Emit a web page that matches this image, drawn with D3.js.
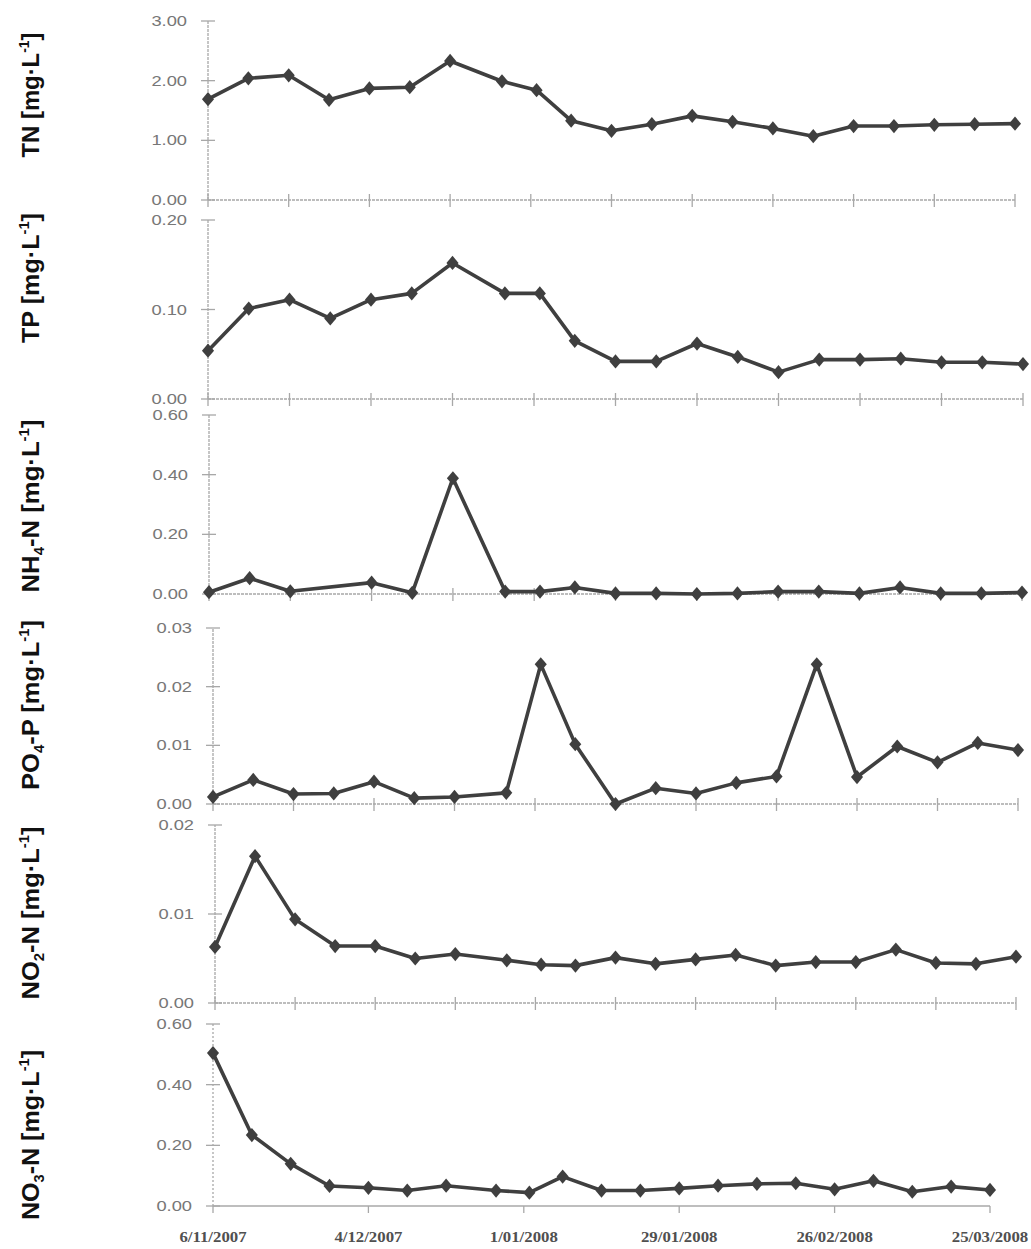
<!DOCTYPE html>
<html>
<head>
<meta charset="utf-8">
<script src="https://cdn.jsdelivr.net/npm/d3@7"></script>
<style>
  body { margin: 0; background: #fff; }
  svg { display: block; }
</style>
</head>
<body>
<svg id="chart" width="1031" height="1249"></svg>
<script>
// sampling dates (weekly, one shifted sample around new year)
const sampleDates = [
  '6/11/2007', '13/11/2007', '20/11/2007', '27/11/2007', '4/12/2007', '11/12/2007',
  '18/12/2007', '27/12/2007', '2/01/2008', '8/01/2008', '15/01/2008', '22/01/2008',
  '29/01/2008', '5/02/2008', '12/02/2008', '19/02/2008', '26/02/2008', '4/03/2008',
  '11/03/2008', '18/03/2008', '25/03/2008'
];

const tnValues  = [1.69, 2.04, 2.09, 1.68, 1.87, 1.89, 2.33, 1.99, 1.84, 1.33, 1.16,
                   1.27, 1.41, 1.31, 1.20, 1.07, 1.24, 1.24, 1.26, 1.27, 1.28];
const tpValues  = [0.054, 0.101, 0.111, 0.090, 0.111, 0.118, 0.152, 0.118, 0.118, 0.065, 0.042,
                   0.042, 0.062, 0.047, 0.030, 0.044, 0.044, 0.045, 0.041, 0.041, 0.039];
const nh4Values = [0.006, 0.053, 0.009, null, 0.038, 0.004, 0.388, 0.008, 0.008, 0.022, 0.002,
                   0.002, 0.000, 0.002, 0.008, 0.008, 0.002, 0.022, 0.002, 0.002, 0.005];
const po4Values = [0.0012, 0.0041, 0.0017, 0.0018, 0.0038, 0.0010, 0.0012, 0.0019, 0.0238, 0.0102, 0.0000,
                   0.0027, 0.0018, 0.0036, 0.0047, 0.0238, 0.0046, 0.0098, 0.0071, 0.0104, 0.0092];
const no2Values = [0.0063, 0.0165, 0.0094, 0.0064, 0.0064, 0.0050, 0.0055, 0.0048, 0.0043, 0.0042, 0.0051,
                   0.0044, 0.0049, 0.0054, 0.0042, 0.0046, 0.0046, 0.0060, 0.0045, 0.0044, 0.0052];
const no3Values = [0.504, 0.234, 0.139, 0.066, 0.060, 0.051, 0.067, 0.051, 0.044, 0.097, 0.051,
                   0.051, 0.058, 0.067, 0.073, 0.075, 0.055, 0.083, 0.047, 0.064, 0.053];

const tnTicks  = [0, 1, 2, 3];
const tpTicks  = [0, 0.1, 0.2];
const nh4Ticks = [0, 0.2, 0.4, 0.6];
const po4Ticks = [0, 0.01, 0.02, 0.03];
const no2Ticks = [0, 0.01, 0.02];
const no3Ticks = [0, 0.2, 0.4, 0.6];

const dateTickLabels = ['6/11/2007', '4/12/2007', '1/01/2008', '29/01/2008', '26/02/2008', '25/03/2008'];

const parseDate = d3.timeParse('%d/%m/%Y');
const dates = sampleDates.map(parseDate);
const startDate = dates[0];
const endDate = dates[dates.length - 1];
const fmt = d3.format('.2f');

const INK = '#3f3f3f';
const AXIS = '#a8a8a8';

// Excel-like diamond, a bit taller than wide
const excelDiamond = {
  draw(ctx, size) {
    const h = Math.sqrt(size) * 0.75, w = h * 0.85;
    ctx.moveTo(0, -h); ctx.lineTo(w, 0); ctx.lineTo(0, h); ctx.lineTo(-w, 0); ctx.closePath();
  }
};

// title parts: [text, kind] kind: '' normal, 'sub', 'sup'
const unit = [['[mg·L', ''], ['-1', 'sup'], [']', '']];

// each panel was pasted separately, so each has its own plot box
const panels = [
  { values: tnValues,  ticks: tnTicks,  x0: 208, x1: 1015, yb: 200,  yt: 21,
    title: [['TN ', '']].concat(unit), ty: 95, tlen: 125 },
  { values: tpValues,  ticks: tpTicks,  x0: 208, x1: 1023, yb: 399,  yt: 220,
    title: [['TP ', '']].concat(unit), ty: 278, tlen: 130 },
  { values: nh4Values, ticks: nh4Ticks, x0: 209, x1: 1022, yb: 594,  yt: 415,
    title: [['NH', ''], ['4', 'sub'], ['-N ', '']].concat(unit), ty: 506, tlen: 173 },
  { values: po4Values, ticks: po4Ticks, x0: 213, x1: 1018, yb: 804,  yt: 628,
    title: [['PO', ''], ['4', 'sub'], ['-P ', '']].concat(unit), ty: 705, tlen: 170 },
  { values: no2Values, ticks: no2Ticks, x0: 215, x1: 1016, yb: 1003, yt: 825,
    title: [['NO', ''], ['2', 'sub'], ['-N ', '']].concat(unit), ty: 913, tlen: 173 },
  { values: no3Values, ticks: no3Ticks, x0: 213, x1: 990,  yb: 1206, yt: 1024,
    title: [['NO', ''], ['3', 'sub'], ['-N ', '']].concat(unit), ty: 1135, tlen: 170, bottom: true }
];

const svg = d3.select('#chart');

panels.forEach(p => {
  const x = d3.scaleTime().domain([startDate, endDate]).range([p.x0, p.x1]);
  const y = d3.scaleLinear().domain([0, d3.max(p.ticks)]).range([p.yb, p.yt]);
  const g = svg.append('g');

  // y axis
  g.append('line')
    .attr('x1', p.x0).attr('x2', p.x0)
    .attr('y1', y(0)).attr('y2', y(d3.max(p.ticks)))
    .attr('stroke', AXIS).attr('stroke-width', 1.3)
    .attr('stroke-dasharray', p.bottom ? '2,2' : '3,1');
  g.selectAll('.ytick').data(p.ticks).join('line')
    .attr('x1', p.x0 - 7).attr('x2', p.x0 + 7)
    .attr('y1', d => y(d)).attr('y2', d => y(d))
    .attr('stroke', AXIS).attr('stroke-width', 1.3);
  g.selectAll('.ylab').data(p.ticks).join('text')
    .attr('transform', d => `translate(${p.x0 - 21},${y(d) + 5}) scale(1.22,1)`)
    .attr('text-anchor', 'end')
    .attr('font-family', 'Liberation Sans, Arial, sans-serif')
    .attr('font-size', 15)
    .attr('fill', '#777')
    .text(d => fmt(d));

  // x axis
  g.append('line')
    .attr('x1', p.x0).attr('x2', p.x1)
    .attr('y1', y(0)).attr('y2', y(0))
    .attr('stroke', AXIS).attr('stroke-width', 1.3)
    .attr('stroke-dasharray', p.bottom ? null : '3,1');

  if (p.bottom) {
    const tickDates = dateTickLabels.map(parseDate);
    g.selectAll('.xtick').data(tickDates).join('line')
      .attr('x1', d => x(d)).attr('x2', d => x(d))
      .attr('y1', y(0)).attr('y2', y(0) + 7)
      .attr('stroke', AXIS).attr('stroke-width', 1.3);
    g.selectAll('.xlab').data(dateTickLabels).join('text')
      .attr('transform', d => `translate(${x(parseDate(d))},${y(0) + 36}) scale(1.12,1)`)
      .attr('text-anchor', 'middle')
      .attr('font-family', 'Liberation Serif, Times New Roman, serif')
      .attr('font-weight', 'bold')
      .attr('font-size', 15)
      .attr('fill', '#505050')
      .text(d => d);
  } else {
    const tickDates = d3.range(0, 11).map(i => d3.timeDay.offset(startDate, i * 14));
    g.selectAll('.xtick').data(tickDates).join('line')
      .attr('x1', d => x(d)).attr('x2', d => x(d))
      .attr('y1', y(0) - 6).attr('y2', y(0) + 7)
      .attr('stroke', AXIS).attr('stroke-width', 1.3);
  }

  // series
  const pts = dates.map((d, i) => ({ date: d, v: p.values[i] })).filter(d => d.v != null);
  const line = d3.line().x(d => x(d.date)).y(d => y(d.v));
  g.append('path')
    .datum(pts)
    .attr('d', line)
    .attr('fill', 'none')
    .attr('stroke', INK)
    .attr('stroke-width', 3.6)
    .attr('stroke-linejoin', 'round');
  g.selectAll('.marker').data(pts).join('path')
    .attr('d', d3.symbol(excelDiamond, 90))
    .attr('transform', d => `translate(${x(d.date)},${y(d.v)})`)
    .attr('fill', INK);

  // rotated panel title
  const t = svg.append('text')
    .attr('transform', `translate(39,${p.ty}) rotate(-90)`)
    .attr('text-anchor', 'middle')
    .attr('font-family', 'Liberation Sans, Arial, sans-serif')
    .attr('font-weight', 'bold')
    .attr('font-size', 24)
    .attr('fill', '#111');
  let shift = 0;
  p.title.forEach(([txt, kind]) => {
    const want = kind === 'sub' ? 5 : kind === 'sup' ? -10 : 0;
    t.append('tspan')
      .attr('dy', want - shift)
      .attr('font-size', kind ? 14 : 24)
      .text(txt);
    shift = want;
  });
  t.attr('textLength', p.tlen).attr('lengthAdjust', 'spacingAndGlyphs');
});
</script>
</body>
</html>
